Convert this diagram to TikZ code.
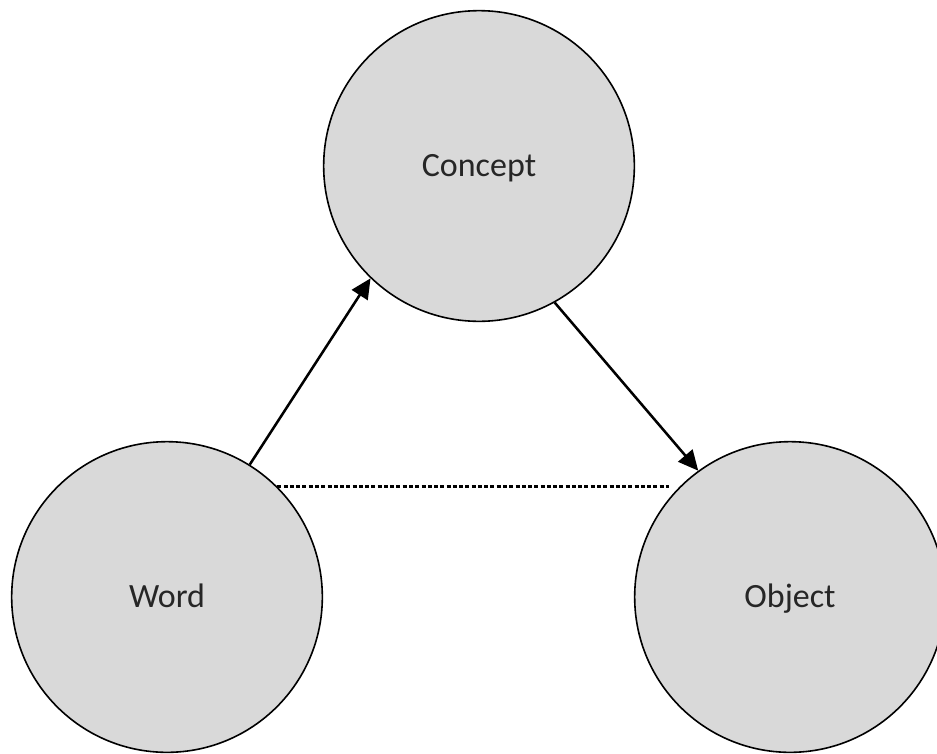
\documentclass[tikz,border=0pt]{standalone}
\usepackage{fontspec}
\setmainfont{Carlito}
\usetikzlibrary{arrows.meta}
\definecolor{circfill}{HTML}{D9D9D9}
\definecolor{txtcol}{HTML}{262626}
\tikzset{
  term/.style={circle, draw=black, line width=1.2pt, fill=circfill, minimum size=233pt, inner sep=0pt, font=\fontsize{25.5}{30}\selectfont, text=txtcol, text height=16.4pt, text depth=0pt},
  relarrow/.style={line width=1.9pt, -{Triangle[length=15pt,width=14pt]}},
  reldash/.style={line width=1.8pt, dash pattern=on 3pt off 1.7pt}
}
\begin{document}
\begin{tikzpicture}[x=0.75pt,y=-0.75pt]
\useasboundingbox (0,0) rectangle (937,753);
\node[term] (concept) at (479,166) {Concept};
\node[term] (word) at (167,597) {Word};
\node[term] (object) at (790,597) {Object};
\draw[relarrow] (word.58) -- (concept.226);
\draw[relarrow] (concept.299) -- (object.126);
\draw[reldash, shorten >=8pt] (word.45) -- (object.135);
\end{tikzpicture}
\end{document}
